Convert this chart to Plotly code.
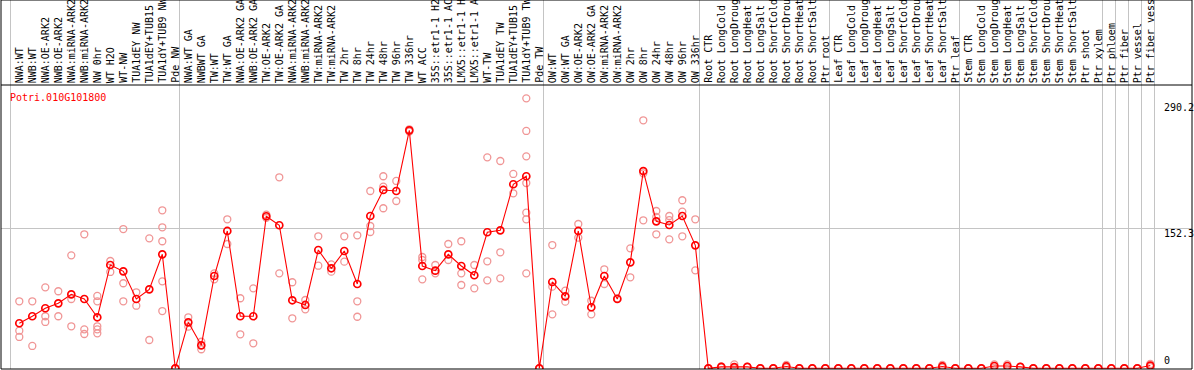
import plotly.graph_objects as go

title_text = "Potri.010G101800"

labels = [
    "NWA:WT", "NWB:WT", "NWA:OE-ARK2", "NWB:OE-ARK2", "NWA:miRNA-ARK2", "NWB:miRNA-ARK2",
    "NW 0hr", "WT H2O", "WT-NW", "TUA1dEY NW", "TUA1dEY+TUB15", "TUA1dY+TUB9 NW", "Pde NW",
    "NWA:WT GA", "NWBWT GA", "TW:WT", "TW:WT GA", "NWA:OE-ARK2 GA", "NWB:OE-ARK2 GA",
    "TW:OE-ARK2", "TW:OE-ARK2 GA", "NWA:miRNA-ARK2", "NWB:miRNA-ARK2", "TW:miRNA-ARK2",
    "TW:miRNA-ARK2", "TW 2hr", "TW 8hr", "TW 24hr", "TW 48hr", "TW 96hr", "TW 336hr",
    "WT ACC", "35S::etr1-1 H2", "35S::etr1-1 AC", "LMX5::etr1-1 H", "LMX5::etr1-1 A",
    "WT-TW", "TUA1dEY TW", "TUA1dEY+TUB15", "TUA1dY+TUB9 TW", "Pde TW",
    "OW:WT", "OW:WT GA", "OW:OE-ARK2", "OW:OE-ARK2 GA", "OW:miRNA-ARK2", "OW:miRNA-ARK2",
    "OW 2hr", "OW 8hr", "OW 24hr", "OW 48hr", "OW 96hr", "OW 336hr",
    "Root CTR", "Root LongCold", "Root LongDroug", "Root LongHeat", "Root LongSalt",
    "Root ShortCold", "Root ShortDrou", "Root ShortHeat", "Root ShortSalt", "Ptr root",
    "Leaf CTR", "Leaf LongCold", "Leaf LongDroug", "Leaf LongHeat", "Leaf LongSalt",
    "Leaf ShortCold", "Leaf ShortDrou", "Leaf ShortHeat", "Leaf ShortSalt", "Ptr leaf",
    "Stem CTR", "Stem LongCold", "Stem LongDroug", "Stem LongHeat", "Stem LongSalt",
    "Stem ShortCold", "Stem ShortDrou", "Stem ShortHeat", "Stem ShortSalt", "Ptr shoot",
    "Ptr xylem", "Ptr phloem", "Ptr fiber", "Ptr vessel", "Ptr fiber vess",
]

group_sizes = [13, 28, 12, 10, 10, 11, 1, 1, 1, 1]

means = [
    49.0, 56.6, 65.3, 70.7, 80.5, 75.4, 55.5, 112.4, 105.5, 75.4, 85.9, 124.0, 0,
    50.0, 25.0, 100.4, 149.4, 56.6, 56.6, 165.4, 155.6, 74.0, 68.9, 128.7, 108.8, 127.6,
    91.7, 165.7, 194.0, 192.9, 258.9, 111.3, 106.2, 124.0, 111.3, 101.2, 148.0, 150.1,
    200.2, 208.9, 0,
    93.9, 78.3, 149.4, 66.4, 100.4, 75.4, 115.3, 214.6, 159.9, 155.9, 165.7, 133.8,
    0, 1.5, 1.2, 1.5, 0, 0, 2.0, 0, 0, 0,
    0, 0, 0, 0, 0, 0, 0, 0, 2.0, 0,
    0, 0, 2.5, 2.5, 1.5, 0, 0, 0, 0, 0, 0,
    0, 0, 0, 3.0,
]

replicates = [
    [72.9, 40.9, 34.1], [72.9, 24.3], [88.1, 56.6, 50.4], [83.8, 56.6],
    [122.9, 75.4, 45.7], [145.8, 42.4, 37.3], [78.7, 72.9, 45.7, 42.4, 38.1],
    [116.7, 104.8], [151.5, 92.5, 72.9], [82.7, 68.1], [141.4, 30.8],
    [171.9, 153.4, 138.2, 94.6, 62.3], [0, 0],
    [55.5, 45.3], [28.9, 20.7], [103.3, 96.8], [162.1, 135.2], [76.2, 37.0],
    [87.0, 27.2], [167.1, 163.8], [207.8, 103.3], [93.6, 54.4], [74.3, 64.2],
    [143.6, 111.6], [113.1, 105.1], [143.6, 116.0], [144.7, 72.9, 56.1],
    [192.9, 154.8, 148.3], [208.9, 197.6, 174.1], [203.8, 182.0], [260.0, 257.5],
    [121.1, 117.8, 96.8], [112.4, 103.3], [135.2, 117.8], [138.2, 103.3, 90.6],
    [112.4, 87.0], [229.5, 116.4, 95.7], [225.5, 126.2, 97.9], [211.4, 190.4],
    [293.7, 258.2, 230.6, 201.6, 169.3, 162.1, 103.3], [0, 0],
    [134.1, 88.8, 58.7], [84.4, 72.5], [157.0, 142.1], [73.5, 58.7], [107.7, 91.7],
    [76.2], [130.5, 99.0], [269.8, 212.1, 161.0], [171.1, 164.6, 145.8],
    [165.7, 161.3, 140.3], [182.8, 170.4, 143.6], [162.1, 106.6],
    [0, 0], [2.0, 1.0], [4.3, 0], [1.5, 1.5], [0, 0], [0, 0], [3.6, 0.5], [0, 0], [0, 0], [0, 0],
    [0, 0], [0, 0], [0, 0], [0, 0], [0, 0], [0, 0], [0, 0], [0, 0], [3.6, 0.5], [0, 0],
    [0, 0], [0, 0], [4.3, 0.7], [4.3, 0.7], [1.5, 1.5], [0, 0], [0, 0], [0, 0], [0, 0], [0, 0], [0, 0],
    [0, 0], [0, 0], [0, 0], [4.7, 1.3],
]

y_tick_vals = [290.2, 152.3, 0]
y_tick_text = ["290.2", "152.3", "0"]

# ---------------------------------------------------------------
W, H = 1194, 370
ML, MR, MT, MB = 1, 2, 0, 1
PW, PH = W - ML - MR, H - MT - MB
FONT = "DejaVu Sans Mono"

x_idx = list(range(len(labels)))
rx, ry = [], []
for i, reps in enumerate(replicates):
    rx += [i] * len(reps)
    ry += reps

# group separators
bounds = []
acc = 0
for g in group_sizes:
    bounds.append(acc)
    acc += g
bounds.append(acc)
seps = [-0.7] + [b - 0.64 for b in bounds[1:]]

fig = go.Figure()
fig.add_trace(go.Scatter(
    x=rx, y=ry, mode="markers",
    marker=dict(symbol="circle-open", size=7, color="#f09696", line=dict(width=1.3)),
    hoverinfo="skip", showlegend=False,
))
fig.add_trace(go.Scatter(
    x=x_idx, y=means, mode="lines+markers",
    line=dict(color="#ff0000", width=1.1),
    marker=dict(symbol="circle-open", size=7, color="#ff0000", line=dict(width=1.7)),
    showlegend=False,
))

annotations = []
label_y = (PH - 84) / PH
for i, lab in enumerate(labels):
    annotations.append(dict(
        x=i, xref="x", y=label_y, yref="paper", text=lab, textangle=-90,
        xanchor="center", yanchor="bottom", showarrow=False,
        font=dict(family=FONT, size=10, color="black"), borderpad=0,
    ))

tick_x = (1163 - ML) / PW
for v, t in zip(y_tick_vals, y_tick_text):
    if v == 0:
        annotations.append(dict(x=tick_x, xref="paper", y=v, yref="y", text=t,
                                xanchor="left", yanchor="bottom", yshift=1, showarrow=False,
                                font=dict(family=FONT, size=10, color="black"), borderpad=0))
    else:
        annotations.append(dict(x=tick_x, xref="paper", y=v, yref="y", text=t,
                                xanchor="left", yanchor="top", yshift=1, showarrow=False,
                                font=dict(family=FONT, size=10, color="black"), borderpad=0))

annotations.append(dict(
    x=(9 - ML) / PW, xref="paper", y=(PH - 97) / PH, yref="paper", text=title_text,
    xanchor="left", yanchor="middle", showarrow=False,
    font=dict(family=FONT, size=10, color="#ff0000"), borderpad=0,
))

shapes = [
    dict(type="line", xref="paper", yref="paper", x0=0, x1=1,
         y0=(PH - 85) / PH, y1=(PH - 85) / PH, line=dict(color="black", width=1)),
    dict(type="rect", xref="paper", yref="paper", x0=0, x1=1, y0=0, y1=1,
         line=dict(color="black", width=1)),
]

x_range = [(ML - 19.3) / 13.0, (ML + PW - 19.3) / 13.0]
px_per_unit = 140.0 / 152.3
y_min = -(PH - 368.3) / px_per_unit
y_max = y_min + PH / px_per_unit

fig.update_layout(
    width=W, height=H,
    margin=dict(l=ML, r=MR, t=MT, b=MB, pad=0),
    paper_bgcolor="white", plot_bgcolor="white",
    hovermode=False,
    xaxis=dict(range=x_range, tickvals=seps, showticklabels=False, ticks="",
               showgrid=True, gridcolor="#c4c4c4", gridwidth=1, zeroline=False,
               showline=False, fixedrange=True),
    yaxis=dict(range=[y_min, y_max], tickvals=[152.3], showticklabels=False, ticks="",
               showgrid=True, gridcolor="#c4c4c4", gridwidth=1, zeroline=False,
               showline=False, fixedrange=True),
    annotations=annotations,
    shapes=shapes,
)

fig.write_html(
    "out.html",
    config={"displayModeBar": False, "staticPlot": True},
    post_script="document.body.style.margin='0px';document.body.style.overflow='hidden';",
)
